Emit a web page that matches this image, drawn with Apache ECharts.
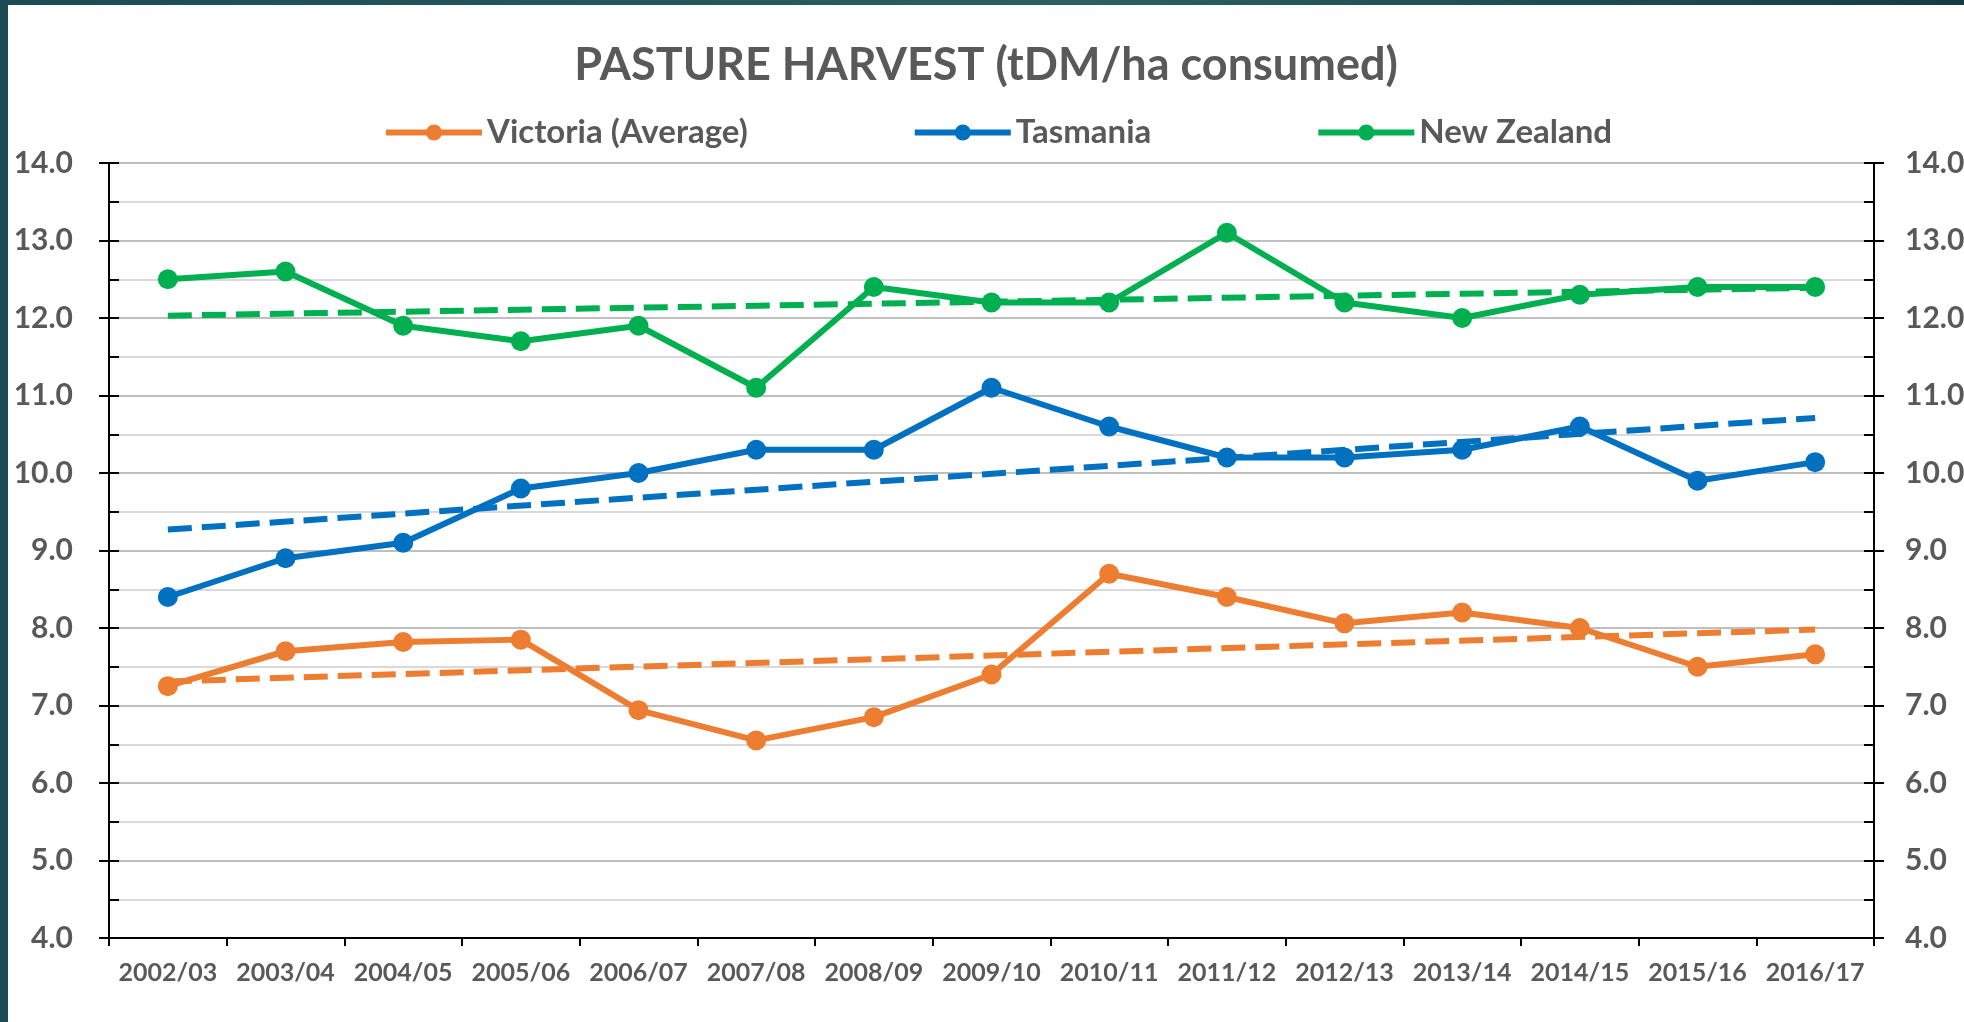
<!DOCTYPE html>
<html>
<head>
<meta charset="utf-8">
<title>Pasture harvest</title>
<script src="https://cdn.jsdelivr.net/npm/echarts@6/dist/echarts.min.js"></script>
<style>
html, body { margin: 0; padding: 0; width: 1964px; height: 1022px; overflow: hidden;
  background: linear-gradient(90deg, #1c4b56, #2a5f62 55%, #163c48); }
#chart { position: absolute; left: 8px; top: 5px; width: 1956px; height: 1017px; background: #fff; }
</style>
</head>
<body>
<div id="chart"></div>
<script>
// seasons on the x axis
var seasons = ['2002/03', '2003/04', '2004/05', '2005/06', '2006/07', '2007/08', '2008/09', '2009/10',
  '2010/11', '2011/12', '2012/13', '2013/14', '2014/15', '2015/16', '2016/17'];

// tDM/ha consumed
var victoria = [7.25, 7.7, 7.82, 7.85, 6.94, 6.55, 6.85, 7.4, 8.7, 8.4, 8.06, 8.2, 8.0, 7.5, 7.66];
var tasmania = [8.4, 8.9, 9.1, 9.8, 10.0, 10.3, 10.3, 11.1, 10.6, 10.2, 10.2, 10.3, 10.6, 9.9, 10.14];
var newZealand = [12.5, 12.6, 11.9, 11.7, 11.9, 11.1, 12.4, 12.2, 12.2, 13.1, 12.2, 12.0, 12.3, 12.4, 12.4];

// linear trend lines: only the two ends are read, the middle is left empty
var victoriaTrend = [7.31, null, null, null, null, null, null, null, null, null, null, null, null, null, 7.98];
var tasmaniaTrend = [9.27, null, null, null, null, null, null, null, null, null, null, null, null, null, 10.71];
var newZealandTrend = [12.03, null, null, null, null, null, null, null, null, null, null, null, null, null, 12.39];

var names = ['Victoria (Average)', 'Tasmania', 'New Zealand'];
var colors = ['#ED7D31', '#0070C0', '#00B050'];

var FONT = 'Lato';
var GREY = '#595959';

function mainLine(name, data, color) {
  return {
    name: name, type: 'line', data: data,
    symbol: 'circle', symbolSize: 20, showAllSymbol: true,
    lineStyle: { color: color, width: 6 },
    itemStyle: { color: color },
    z: 3
  };
}
function trendLine(name, data, color) {
  return {
    name: name + ' trend', type: 'line', data: data, connectNulls: true,
    symbol: 'none', silent: true,
    lineStyle: { color: color, width: 6, type: [24, 10] },
    z: 4
  };
}

function valueAxis(pos, labels, inside, margin) {
  return {
    type: 'value', position: pos, min: 4, max: 14, interval: 1,
    axisLine: { show: true, lineStyle: { color: '#000', width: 2 } },
    axisTick: { show: true, inside: inside, length: 10, lineStyle: { color: '#000', width: 2 } },
    minorTick: { show: inside, splitNumber: 2, length: 10, lineStyle: { color: '#000', width: 2 } },
    axisLabel: {
      show: labels, margin: margin, fontSize: 30, fontWeight: 'bold', color: GREY, fontFamily: FONT,
      formatter: function (v) { return v.toFixed(1); }
    },
    splitLine: { show: false },
    minorSplitLine: { show: false }
  };
}

var leftAxis = valueAxis('left', true, false, 36);
leftAxis.splitLine = { show: true, lineStyle: { color: '#bfbfbf', width: 2 } };
leftAxis.minorSplitLine = { show: true, lineStyle: { color: '#d9d9d9', width: 2 } };

var option = {
  backgroundColor: '#fff',
  animation: false,
  title: {
    text: 'PASTURE HARVEST (tDM/ha consumed)',
    left: 'center', top: 33,
    textStyle: { fontSize: 45, fontWeight: 'bold', color: GREY, fontFamily: FONT }
  },
  legend: {
    data: names,
    left: 370, top: 106,
    itemWidth: 96, itemHeight: 20, itemGap: 164,
    lineStyle: { width: 6 },
    textStyle: { fontSize: 33, fontWeight: 'bold', color: GREY, fontFamily: FONT }
  },
  grid: { left: 101, right: 90, top: 158, bottom: 84, containLabel: false, outerBoundsMode: 'none' },
  xAxis: {
    type: 'category', data: seasons, boundaryGap: true,
    axisLine: { show: true, lineStyle: { color: '#000', width: 2 } },
    axisTick: { show: true, length: 8, lineStyle: { color: '#000', width: 2 } },
    axisLabel: { interval: 0, margin: 22, fontSize: 25, fontWeight: 'bold', color: GREY, fontFamily: FONT },
    splitLine: { show: false }
  },
  yAxis: [
    leftAxis,
    valueAxis('left', false, true, 36),
    valueAxis('right', true, false, 31),
    valueAxis('right', false, true, 31)
  ],
  series: [
    mainLine(names[0], victoria, colors[0]),
    mainLine(names[1], tasmania, colors[1]),
    mainLine(names[2], newZealand, colors[2]),
    trendLine(names[0], victoriaTrend, colors[0]),
    trendLine(names[1], tasmaniaTrend, colors[1]),
    trendLine(names[2], newZealandTrend, colors[2])
  ]
};

var myChart = echarts.init(document.getElementById('chart'));
myChart.setOption(option);
</script>
</body>
</html>
